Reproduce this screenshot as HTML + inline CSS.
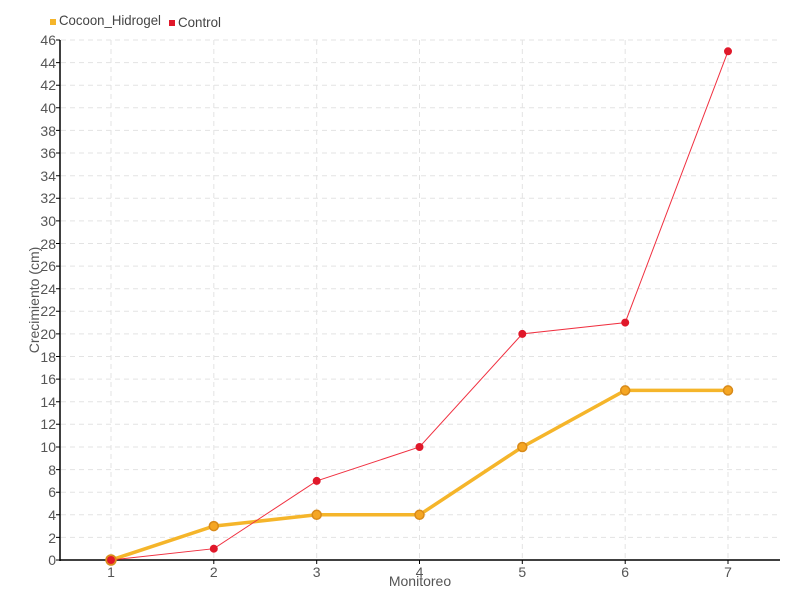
<!DOCTYPE html><html><head><style>body{margin:0;background:#fff}svg{display:block;font-family:"Liberation Sans Narrow","Liberation Sans",sans-serif}</style></head><body>
<svg width="800" height="600" xmlns="http://www.w3.org/2000/svg">
<g stroke="#e3e3e3" stroke-dasharray="5,4" stroke-width="1">
<line x1="61" x2="780" y1="537.4" y2="537.4"/><line x1="61" x2="780" y1="514.8" y2="514.8"/><line x1="61" x2="780" y1="492.2" y2="492.2"/><line x1="61" x2="780" y1="469.6" y2="469.6"/><line x1="61" x2="780" y1="447" y2="447"/><line x1="61" x2="780" y1="424.3" y2="424.3"/><line x1="61" x2="780" y1="401.7" y2="401.7"/><line x1="61" x2="780" y1="379.1" y2="379.1"/><line x1="61" x2="780" y1="356.5" y2="356.5"/><line x1="61" x2="780" y1="333.9" y2="333.9"/><line x1="61" x2="780" y1="311.3" y2="311.3"/><line x1="61" x2="780" y1="288.7" y2="288.7"/><line x1="61" x2="780" y1="266.1" y2="266.1"/><line x1="61" x2="780" y1="243.5" y2="243.5"/><line x1="61" x2="780" y1="220.9" y2="220.9"/><line x1="61" x2="780" y1="198.3" y2="198.3"/><line x1="61" x2="780" y1="175.7" y2="175.7"/><line x1="61" x2="780" y1="153" y2="153"/><line x1="61" x2="780" y1="130.4" y2="130.4"/><line x1="61" x2="780" y1="107.8" y2="107.8"/><line x1="61" x2="780" y1="85.2" y2="85.2"/><line x1="61" x2="780" y1="62.6" y2="62.6"/><line x1="61" x2="780" y1="40" y2="40"/>
<line x1="111" x2="111" y1="40" y2="560"/><line x1="213.8" x2="213.8" y1="40" y2="560"/><line x1="316.7" x2="316.7" y1="40" y2="560"/><line x1="419.5" x2="419.5" y1="40" y2="560"/><line x1="522.3" x2="522.3" y1="40" y2="560"/><line x1="625.2" x2="625.2" y1="40" y2="560"/><line x1="728" x2="728" y1="40" y2="560"/>
</g>
<g stroke="#000" stroke-width="1.5"><line x1="60" x2="60" y1="40" y2="561"/><line x1="60" x2="780" y1="560" y2="560"/></g>
<g stroke="#000"><path d="M56 560h4M56 537.4h4M56 514.8h4M56 492.2h4M56 469.6h4M56 447h4M56 424.3h4M56 401.7h4M56 379.1h4M56 356.5h4M56 333.9h4M56 311.3h4M56 288.7h4M56 266.1h4M56 243.5h4M56 220.9h4M56 198.3h4M56 175.7h4M56 153h4M56 130.4h4M56 107.8h4M56 85.2h4M56 62.6h4M56 40h4M111 560v4M213.8 560v4M316.7 560v4M419.5 560v4M522.3 560v4M625.2 560v4M728 560v4"/></g>
<g fill="#555" font-size="14" text-anchor="end">
<text x="56" y="565">0</text><text x="56" y="543">2</text><text x="56" y="520">4</text><text x="56" y="497">6</text><text x="56" y="475">8</text><text x="56" y="452">10</text><text x="56" y="429">12</text><text x="56" y="407">14</text><text x="56" y="384">16</text><text x="56" y="362">18</text><text x="56" y="339">20</text><text x="56" y="316">22</text><text x="56" y="294">24</text><text x="56" y="271">26</text><text x="56" y="249">28</text><text x="56" y="226">30</text><text x="56" y="203">32</text><text x="56" y="181">34</text><text x="56" y="158">36</text><text x="56" y="136">38</text><text x="56" y="113">40</text><text x="56" y="90">42</text><text x="56" y="68">44</text><text x="56" y="45">46</text>
</g>
<g fill="#555" font-size="14" text-anchor="middle">
<text x="111" y="577">1</text><text x="213.8" y="577">2</text><text x="316.7" y="577">3</text><text x="419.5" y="577">4</text><text x="522.3" y="577">5</text><text x="625.2" y="577">6</text><text x="728" y="577">7</text>
<text x="420" y="586">Monitoreo</text>
<text transform="translate(39,300) rotate(-90)">Crecimiento (cm)</text>
</g>
<polyline fill="none" stroke="#f5b52a" stroke-width="3.5" points="111,560 213.8,526.1 316.7,514.8 419.5,514.8 522.3,447 625.2,390.4 728,390.4"/>
<polyline fill="none" stroke="#f03040" stroke-width="1" points="111,560 213.8,548.7 316.7,480.9 419.5,447 522.3,333.9 625.2,322.6 728,51.3"/>
<g fill="#f5a623" stroke="#d88a1a" stroke-width="1.5"><circle cx="213.8" cy="526.1" r="4.5"/><circle cx="316.7" cy="514.8" r="4.5"/><circle cx="419.5" cy="514.8" r="4.5"/><circle cx="522.3" cy="447" r="4.5"/><circle cx="625.2" cy="390.4" r="4.5"/><circle cx="728" cy="390.4" r="4.5"/><circle cx="111" cy="560" r="5"/></g>
<g fill="#e0182a"><circle cx="111" cy="560" r="4"/><circle cx="213.8" cy="548.7" r="4"/><circle cx="316.7" cy="480.9" r="4"/><circle cx="419.5" cy="447" r="4"/><circle cx="522.3" cy="333.9" r="4"/><circle cx="625.2" cy="322.6" r="4"/><circle cx="728" cy="51.3" r="4"/></g>
<rect x="50" y="19" width="6" height="6" fill="#f5b52a"/><text x="59" y="25" font-size="14" fill="#444" textLength="102" lengthAdjust="spacingAndGlyphs">Cocoon_Hidrogel</text>
<rect x="169" y="20" width="6" height="6" fill="#e0182a"/><text x="178" y="27" font-size="14" fill="#444" textLength="43" lengthAdjust="spacingAndGlyphs">Control</text>
</svg></body></html>
